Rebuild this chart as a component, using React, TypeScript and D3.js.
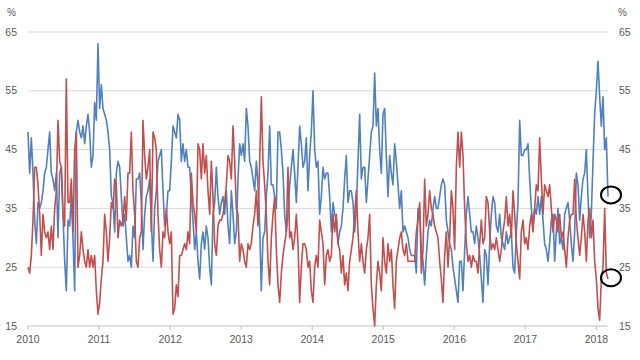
import React from "react";
import * as d3 from "d3";

// Sampled values (about every 8.6 days), 2010.0 to ~2018.16
const blue2010 = [48,41,47,41,33,29,36,35,36,38,41,42,45,48,41,40,38,41,30,41,42,34,26,21,33,32,37,30,21,48,50,48,47,49,46,49,51,48,42,44,53,50,63,52,56,52,51,50,48,45,37,36,31,41,43,42,37,32,34];
const red2010 = [25,24,27,33,42,42,39,34,27,34,31,30,31,28,32,28,35,38,50,43,42,34,32,57,36,36,40,31,45,48,25,27,31,28,26,25,28,25,27,25,27,21,17,19,23,26,34,31,26,30,36,35,40,39,30,33,32,33,37];
const blue2011 = [30,26,27,25,32,30,40,40,41,36,28,34,37,38,40,33,26,35,38,43,44,45,38,32,34,38,38,43,49,48,47,51,50,43,46,43,45,42,42,37,33,28,31,26,23,29,31,28,32,30,25,22,34,36,42,37,34,36];
const red2011 = [33,41,41,48,38,34,26,25,30,31,50,44,40,42,45,31,48,47,45,34,28,25,31,30,35,31,29,31,17,18,22,20,27,27,28,29,28,31,29,41,36,34,31,46,45,40,46,41,44,38,34,43,37,29,27,32,33,33];
const blue2013 = [37,34,38,32,29,38,34,29,31,40,46,44,46,43,52,49,43,42,40,38,43,39,32,21,30,31,37,41,49,39,39,37,35,48,48,45,41,34,31,34,39,42,45,41,36,42,49,46,42,43,47,38,44,48,55,45,42,43];
const red2013 = [34,36,39,44,43,40,49,43,35,34,26,29,28,26,25,29,28,29,32,34,38,32,43,54,43,39,34,26,22,30,34,37,28,22,19,24,27,29,31,42,30,31,28,30,34,29,19,25,29,29,28,25,26,21,19,25,27,25];
const blue2014 = [34,37,42,40,41,41,37,31,36,34,33,29,31,32,35,40,44,36,38,38,36,31,35,43,51,40,42,42,36,40,44,48,49,58,49,52,45,41,51,52,44,37,44,41,39,46,43,39,35,38,31,32,31,30,28,27,27];
const red2014 = [33,31,29,22,27,28,26,27,34,31,34,29,28,24,27,22,24,21,26,28,30,34,38,31,26,29,26,24,28,30,34,22,18,15,22,26,24,21,30,26,24,29,26,28,22,18,26,28,30,31,28,27,29,26,26,26,26];
const blue2016 = [27,24,35,35,28,26,22,27,31,33,32,35,37,35,35,37,39,40,39,33,31,29,28,25,23,21,19,26,26,21,28,34,37,34,31,31,29,32,30,27,23,19,28,27,22,29,34,37,36,32,31,34,30,29,28,31,29,30];
const red2016 = [26,31,33,36,24,28,40,32,34,38,35,34,32,31,30,26,23,19,27,31,25,30,38,35,28,42,48,42,48,44,35,29,26,27,25,27,26,26,24,29,33,29,30,37,36,31,28,29,28,30,28,26,28,31,33,37,32,34];
const blue2017 = [31,25,24,31,36,50,44,44,45,45,46,40,35,32,35,34,37,34,37,33,29,28,26,29,33,34,26,31,35,29,30,28,34,35,36,33,29,26,31,41,39,33,37,40,41,45,37,30,34,43,51,55,60,54,49,54,45,47,37];
const red2017 = [30,38,34,29,26,23,31,33,29,30,28,32,34,31,35,39,38,47,40,34,39,38,37,39,35,31,34,33,31,34,30,31,28,25,30,33,34,34,40,33,30,27,30,34,31,26,33,35,30,33,26,23,18,16,23,25,35,24,23];

const blueValues = [...blue2010, ...blue2011, ...blue2013, ...blue2014, ...blue2016, ...blue2017];
const redValues = [...red2010, ...red2011, ...red2013, ...red2014, ...red2016, ...red2017];

const START_YEAR = 2010;
const END_YEAR = 2018.163;
const yearTicks = [2010, 2011, 2012, 2013, 2014, 2015, 2016, 2017, 2018];
const valueTicks = [15, 25, 35, 45, 55, 65];
const highlightValues = [37.3, 23.2];

const W = 640, H = 360;
const left = 28, right = 608, top = 32, bottom = 326;

export default function App() {
  const n = blueValues.length;
  const step = (END_YEAR - START_YEAR) / (n - 1);
  const x = d3.scaleLinear().domain([START_YEAR, END_YEAR]).range([left, right]);
  const y = d3.scaleLinear().domain([15, 65]).range([bottom, top]);
  const line = d3
    .line<number>()
    .x((_, i) => x(START_YEAR + i * step))
    .y((d) => y(d));
  const font = "'Liberation Sans', Arial, sans-serif";
  return (
    <div style={{ position: "fixed", left: 0, top: 0 }}>
      <svg width={W} height={H} style={{ display: "block", background: "#fff" }}>
        {valueTicks.map((v) => (
          <line key={"g" + v} x1={left} x2={right} y1={y(v)} y2={y(v)} stroke={v === 15 ? "#bfbfbf" : "#d9d9d9"} strokeWidth={1} />
        ))}
        {yearTicks.map((t) => (
          <g key={"t" + t}>
            <line x1={x(t)} x2={x(t)} y1={bottom} y2={bottom + 4} stroke="#bfbfbf" />
            <text x={x(t)} y={343} textAnchor="middle" fontSize={10.5} fontFamily={font} fill="#595959">
              {t}
            </text>
          </g>
        ))}
        {valueTicks.map((v) => (
          <g key={"l" + v}>
            <text x={17} y={y(v) + 3.5} textAnchor="end" fontSize={10.5} fontFamily={font} fill="#595959">{v}</text>
            <text x={619} y={y(v) + 3.5} textAnchor="start" fontSize={10.5} fontFamily={font} fill="#595959">{v}</text>
          </g>
        ))}
        <text x={7} y={16} fontSize={10} fontFamily={font} fill="#595959">%</text>
        <text x={618} y={16} fontSize={10} fontFamily={font} fill="#595959">%</text>
        <path d={line(blueValues) || ""} fill="none" stroke="#4f81bd" strokeWidth={1.6} strokeLinejoin="round" />
        <path d={line(redValues) || ""} fill="none" stroke="#c0504d" strokeWidth={1.6} strokeLinejoin="round" />
        {highlightValues.map((v, i) => (
          <ellipse key={"c" + i} cx={x(END_YEAR) + 3} cy={y(v)} rx={10} ry={8.5} fill="none" stroke="#000" strokeWidth={2} />
        ))}
      </svg>
    </div>
  );
}
